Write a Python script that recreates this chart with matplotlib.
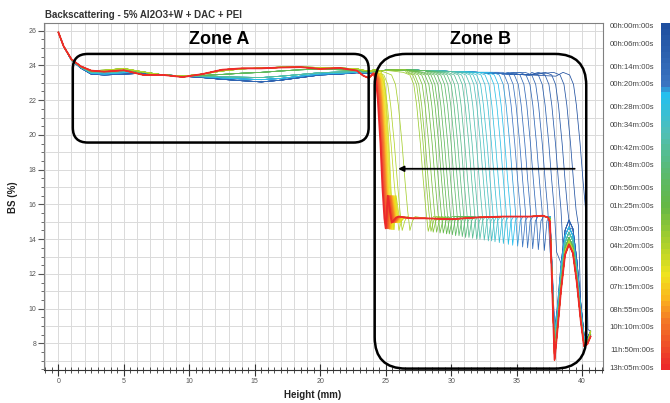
import numpy as np
import matplotlib
matplotlib.use("Agg")
import matplotlib.pyplot as plt
from matplotlib.colors import LinearSegmentedColormap, ListedColormap
from matplotlib.patches import FancyBboxPatch

plt.rcParams['font.family'] = ['Liberation Sans', 'DejaVu Sans']

# ---- data ----
# zone A : common height points, one BS profile per colour group
zoneA_x = [0, 0.4, 1.0, 1.7, 2.5, 3.5, 5.0, 6.5, 8.0, 9.5, 11.0, 12.5, 14.0, 15.5, 17.0, 18.5, 20.0, 21.5, 22.8, 23.3, 23.7, 24.2]
zoneA_bs = [
    [25.9, 25.1, 24.3, 23.85, 23.5, 23.45, 23.5, 23.55, 23.45, 23.38, 23.3, 23.2, 23.12, 23.05, 23.15, 23.3, 23.45, 23.5, 23.58, 23.55, 23.55, 23.6],
    [25.9, 25.1, 24.3, 23.88, 23.55, 23.5, 23.58, 23.6, 23.45, 23.4, 23.35, 23.28, 23.22, 23.18, 23.25, 23.38, 23.5, 23.55, 23.6, 23.58, 23.58, 23.62],
    [25.9, 25.1, 24.32, 23.9, 23.6, 23.58, 23.65, 23.62, 23.45, 23.4, 23.38, 23.35, 23.32, 23.3, 23.38, 23.48, 23.58, 23.62, 23.65, 23.62, 23.6, 23.65],
    [25.9, 25.1, 24.33, 23.92, 23.65, 23.65, 23.72, 23.6, 23.45, 23.4, 23.42, 23.48, 23.55, 23.6, 23.68, 23.75, 23.78, 23.75, 23.72, 23.68, 23.65, 23.68],
    [25.9, 25.1, 24.35, 23.95, 23.7, 23.72, 23.82, 23.62, 23.45, 23.38, 23.5, 23.68, 23.8, 23.85, 23.9, 23.9, 23.88, 23.85, 23.8, 23.72, 23.68, 23.75],
    [25.9, 25.1, 24.35, 23.95, 23.7, 23.64, 23.72, 23.45, 23.45, 23.33, 23.5, 23.75, 23.83, 23.83, 23.88, 23.9, 23.8, 23.85, 23.7, 23.4, 23.28, 23.55],
]
group_sizes = [7, 7, 8, 8, 10, 20]

# zone B top before the front
top_x = [24.6, 25.0, 26.5, 28.0, 30.0, 32.0, 34.0, 36.0, 38.0, 39.0, 40.0]
top_bs = [23.68, 23.72, 23.75, 23.7, 23.65, 23.6, 23.52, 23.45, 23.38, 23.32, 23.3]

# front position (BS ~19.5) of each of the 60 scans
front_x = [39.85, 39.12, 38.48, 37.97, 37.46, 36.96, 36.52, 36.06, 35.63, 35.24,
           34.86, 34.48, 34.10, 33.77, 33.39, 33.08, 32.75, 32.49, 32.24, 31.93,
           31.60, 31.35, 31.04, 30.76, 30.50, 30.25, 30.00, 29.74, 29.49, 29.26,
           29.05, 28.80, 28.55, 28.29, 28.03, 27.86, 27.65, 26.25, 25.66, 25.41,
           25.25, 25.20, 25.15, 25.10, 25.06, 25.02, 24.98, 24.95, 24.92, 24.89,
           24.86, 24.83, 24.80, 24.77, 24.74, 24.71, 24.68, 24.65, 24.62, 24.60]
# undershoot minimum right after each front
trough_bs = [8.8, 14.8, 14.6, 13.2, 13.25, 13.3, 13.35, 13.4, 13.45, 13.5,
             13.55, 13.6, 13.65, 13.7, 13.75, 13.8, 13.85, 13.9, 13.9, 13.95,
             14.0, 14.0, 14.05, 14.1, 14.1, 14.15, 14.2, 14.2, 14.25, 14.3,
             14.3, 14.35, 14.35, 14.4, 14.4, 14.45, 14.45, 14.5, 14.5, 14.5,
             14.55, 14.55, 14.55, 14.55, 14.55, 14.58, 14.58, 14.58, 14.58, 14.58,
             14.6, 14.6, 14.6, 14.6, 14.6, 14.62, 14.62, 14.62, 14.62, 14.62]

# front shape, relative to the front position (None = trough)
front_dx = [-1.3, -0.8, -0.5, -0.28, 0.0, 0.22, 0.42, 0.6, 0.8, 1.0]
front_bs = [23.6, 23.45, 22.9, 21.7, 19.5, 17.4, 15.7, None, 15.05, 15.3]
late_dx = [-0.55, -0.35, -0.2, 0.0, 0.15, 0.3, 0.4, 0.55, 0.85, 1.2]
late_bs = [23.55, 23.2, 22.0, 19.5, 17.0, 15.2, None, 16.5, 14.95, 15.25]

# sediment plateau
plat_x = [26.0, 27.0, 28.0, 30.0, 32.0, 34.0, 36.0, 37.0, 37.4]
plat_bs = [15.3, 15.2, 15.2, 15.15, 15.25, 15.3, 15.3, 15.35, 15.25]

# bottom of the cell
tail_x = [37.55, 37.75, 37.9, 38.1, 38.4, 38.7, 39.0, 39.3, 39.6, 39.9, 40.15, 40.4, 40.65]
tail_bs = [
    [15.3, 11.8, 8.8, 10.0, 12.6, 14.5, 15.1, 14.6, 12.8, 10.3, 8.5, 8.3, 8.7],
    [15.3, 11.5, 8.4, 9.7, 12.3, 14.2, 14.7, 14.2, 12.4, 10.0, 8.3, 8.2, 8.6],
    [15.25, 11.2, 8.0, 9.3, 11.9, 13.8, 14.4, 13.9, 12.1, 9.7, 8.2, 8.1, 8.5],
    [15.2, 10.9, 7.6, 9.0, 11.5, 13.5, 14.1, 13.6, 11.8, 9.5, 8.0, 8.0, 8.5],
    [15.15, 10.7, 7.3, 8.8, 11.3, 13.3, 13.9, 13.4, 11.6, 9.4, 7.95, 8.0, 8.7],
    [15.0, 10.5, 7.05, 8.6, 11.1, 13.1, 13.7, 13.2, 11.5, 9.3, 7.85, 7.95, 8.4],
]

time_labels = ["00h:00m:00s", "00h:06m:00s", "00h:14m:00s", "00h:20m:00s", "00h:28m:00s",
               "00h:34m:00s", "00h:42m:00s", "00h:48m:00s", "00h:56m:00s", "01h:25m:00s",
               "03h:05m:00s", "04h:20m:00s", "06h:00m:00s", "07h:15m:00s", "08h:55m:00s",
               "10h:10m:00s", "11h:50m:00s", "13h:05m:00s"]
label_scan = [0, 3, 7, 10, 14, 17, 21, 24, 28, 31, 35, 38, 42, 45, 49, 52, 56, 59]

n_scans = len(front_x)
group_of = []
for g, n in enumerate(group_sizes):
    group_of += [g] * n

cmap = LinearSegmentedColormap.from_list("turbiscan", [
    (0.0, '#1f4f9f'), (0.17, '#3b75c2'), (0.20, '#24bff0'), (0.31, '#4fc0b8'),
    (0.44, '#5cba6a'), (0.53, '#66b845'), (0.65, '#b5d42a'), (0.73, '#f0e41e'),
    (0.80, '#fbb51e'), (0.86, '#f47c26'), (1.0, '#ec2a2a')])
colors = [cmap(i / (n_scans - 1)) for i in range(n_scans)]


def build_curve(i):
    g = group_of[i]
    xf = front_x[i]
    dx, by = (late_dx, late_bs) if g == 5 else (front_dx, front_bs)
    fx = [xf + d for d in dx]
    fy = [trough_bs[i] if b is None else b for b in by]
    base_x = zoneA_x + top_x
    base_y = zoneA_bs[g] + top_bs
    xs = [x for x in base_x if x < fx[0]]
    ys = [y for x, y in zip(base_x, base_y) if x < fx[0]]
    if fx[-1] < tail_x[0]:
        xs += fx
        ys += fy
        xs += [x for x in plat_x if x > fx[-1]]
        ys += [y for x, y in zip(plat_x, plat_bs) if x > fx[-1]]
        xs += tail_x
        ys += tail_bs[g]
    else:
        k = by.index(None)
        xs += fx[:k + 1]
        ys += fy[:k + 1]
        xs += [x for x in tail_x if x > fx[k] + 0.1]
        ys += [y for x, y in zip(tail_x, tail_bs[g]) if x > fx[k] + 0.1]
    return xs, ys


fig = plt.figure(figsize=(6.7, 4.03), dpi=100)
ax = fig.add_axes([44 / 670, 33 / 403, 559 / 670, 347 / 403])
cax = fig.add_axes([660.5 / 670, 33 / 403, 9.5 / 670, 347 / 403])

ax.set_xlim(-1.1, 41.6)
ax.set_ylim(6.47, 26.44)

for v in range(-1, 42):
    ax.axvline(v, color='#dadada', lw=0.7, zorder=0)
for h in range(7, 27):
    ax.axhline(h, color='#dadada', lw=0.7, zorder=0)

for i in range(n_scans):
    xs, ys = build_curve(i)
    lw = 1.3 if i == n_scans - 1 else 0.55
    ax.plot(xs, ys, color=colors[i], lw=lw, zorder=2)

# zones and arrow
asp = (1 / 17.38) / (1 / 13.09)
ax.add_patch(FancyBboxPatch((1.1, 19.56), 22.6, 5.1, boxstyle="round,pad=0,rounding_size=1.15",
                            mutation_aspect=asp, fill=False, ec='black', lw=1.8, zorder=4))
ax.add_patch(FancyBboxPatch((24.16, 6.55), 16.16, 18.11, boxstyle="round,pad=0,rounding_size=2.4",
                            mutation_aspect=asp, fill=False, ec='black', lw=1.8, zorder=4, clip_on=False))
ax.text(12.27, 25.47, "Zone A", fontsize=13, fontweight='bold', ha='center', va='center', zorder=5)
ax.text(32.24, 25.47, "Zone B", fontsize=13, fontweight='bold', ha='center', va='center', zorder=5)
ax.annotate('', xy=(25.74, 18.05), xytext=(39.65, 18.05),
            arrowprops=dict(arrowstyle='-|>', color='black', lw=1.3, mutation_scale=8), zorder=5)

ax.set_xticks(np.arange(0, 41, 5))
ax.set_xticks(np.arange(-1, 41.6, 0.5), minor=True)
ax.set_yticks(np.arange(8, 27, 2))
ax.set_yticks(np.arange(6.5, 26.5, 0.5), minor=True)
ax.tick_params(axis='x', which='major', direction='inout', length=8, width=0.8,
               labelsize=5, labelcolor='#555555', color='#333333', pad=2)
ax.tick_params(axis='x', which='minor', direction='inout', length=4, width=0.6, color='#333333')
ax.tick_params(axis='y', which='major', direction='out', length=4, width=0.8,
               labelsize=5, labelcolor='#555555', color='#555555', pad=1.5)
ax.tick_params(axis='y', which='minor', direction='out', length=2.5, width=0.6, color='#555555')
for s in ax.spines.values():
    s.set_color('#808080')
    s.set_linewidth(0.8)
ax.spines['bottom'].set_color('#333333')

fig.text(45 / 670, 1 - 14.7 / 403, "Backscattering - 5% Al2O3+W + DAC + PEI",
         fontsize=7, fontweight='bold', color='#333333', ha='left', va='center')
fig.text(313 / 670, 1 - 395 / 403, "Height (mm)", fontsize=7, fontweight='bold',
         color='#222222', ha='center', va='center')
fig.text(13 / 670, 1 - 197 / 403, "BS (%)", fontsize=7, fontweight='bold', rotation=90,
         color='#222222', ha='center', va='center')

# colour scale of the scans
cax.imshow(np.arange(n_scans).reshape(-1, 1), cmap=ListedColormap(colors), aspect='auto',
           interpolation='nearest')
cax.set_xticks([])
cax.set_yticks(label_scan)
cax.set_yticklabels(time_labels)
cax.tick_params(axis='y', length=0, pad=4.7, labelsize=5.6, labelcolor='#444444')
for s in cax.spines.values():
    s.set_visible(False)

fig.savefig("out.png", dpi=100)
